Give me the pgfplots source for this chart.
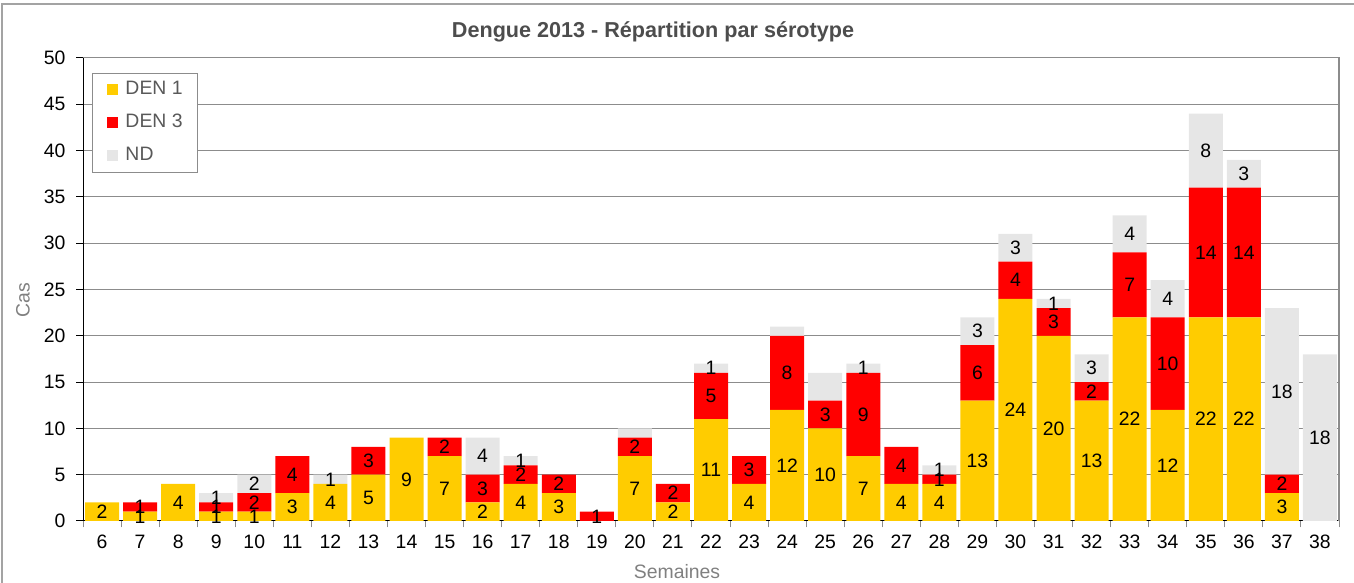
\documentclass[border=0pt]{standalone}
\usepackage{pgfplots}
\usepackage{pgfplotstable}
\pgfplotsset{compat=1.18}
\usepackage{fontspec}
\setmainfont{Liberation Sans}
\definecolor{den1}{HTML}{FFCC00}
\definecolor{den3}{HTML}{FF0000}
\definecolor{ndc}{HTML}{E6E6E6}
\definecolor{gridc}{HTML}{8C8C8C}
\definecolor{titlec}{HTML}{4D4D4D}
\definecolor{labc}{HTML}{808080}
\definecolor{legc}{HTML}{595959}

\pgfplotstableread{
w d1 d3 nd l1 l3 ln
6 2 0 0 2 0 0
7 1 1 0 1 1 0
8 4 0 0 4 0 0
9 1 1 1 1 1 1
10 1 2 2 1 2 2
11 3 4 0 3 4 0
12 4 0 1 4 0 1
13 5 3 0 5 3 0
14 9 0 0 9 0 0
15 7 2 0 7 2 0
16 2 3 4 2 3 4
17 4 2 1 4 2 1
18 3 2 0 3 2 0
19 0 1 0 0 1 0
20 7 2 1 7 2 0
21 2 2 0 2 2 0
22 11 5 1 11 5 1
23 4 3 0 4 3 0
24 12 8 1 12 8 0
25 10 3 3 10 3 0
26 7 9 1 7 9 1
27 4 4 0 4 4 0
28 4 1 1 4 1 1
29 13 6 3 13 6 3
30 24 4 3 24 4 3
31 20 3 1 20 3 1
32 13 2 3 13 2 3
33 22 7 4 22 7 4
34 12 10 4 12 10 4
35 22 14 8 22 14 8
36 22 14 3 22 14 3
37 3 2 18 3 2 18
38 0 0 18 0 0 18
}\data

\pgfplotsset{
  base/.style={
    scale only axis, width=628pt, height=231.5pt,
    xmin=5.5, xmax=38.5, ymin=0, ymax=50, enlargelimits=false,
  },
  lab/.style={draw=none, mark=none, point meta=explicit symbolic,
    nodes near coords={\ifnum\pgfplotspointmeta>0 \pgfplotspointmeta\fi},
    every node near coord/.style={anchor=center, inner sep=0pt,
      font=\fontsize{9.7}{11}\selectfont, text=black}},
}

\begin{document}
\begin{tikzpicture}
\begin{axis}[base, name=main,
  ybar stacked, bar width=17pt,
  /pgf/number format/assume math mode=true,
  axis line style={gridc, line width=0.5pt},
  ymajorgrids, grid style={gridc, line width=0.5pt},
  ytick={0,5,...,50},
  xtick={5.5,6.5,...,38.5}, xticklabels={},
  tick pos=left, tick align=outside, major tick length=3.25pt,
  xtick style={gridc, line width=0.5pt},
  ytick style={black, line width=0.5pt},
  extra x ticks={6,...,38},
  extra x tick style={major tick length=0pt, xticklabel style={yshift=-3.5pt}},
  ticklabel style={font=\fontsize{9.7}{11}\selectfont, text=black},
  yticklabel style={xshift=-2pt},
  legend style={at={(axis description cs:0,1)}, xshift=4.5pt, yshift=-7.5pt,
    anchor=north west, draw=gridc, line width=0.5pt,
    font=\fontsize{9.7}{11}\selectfont, text=legc,
    inner xsep=7.5pt, inner ysep=3.75pt, row sep=7.5pt,
    nodes={inner sep=0pt, text height=7pt, text depth=2pt},
    /tikz/every odd column/.append style={column sep=3.5pt}},
  legend cell align=left,
  legend image code/.code={\fill[#1] (0pt,-2.75pt) rectangle (5.5pt,2.75pt);},
]
\addplot[fill=den1, draw=none] table[x=w, y=d1]{\data};
\addplot[fill=den3, draw=none] table[x=w, y=d3]{\data};
\addplot[fill=ndc, draw=none] table[x=w, y=nd]{\data};
\legend{DEN 1, DEN 3, ND}
\draw[gridc, line width=1pt] (rel axis cs:1,0) -- (rel axis cs:1,1);
\draw[black, line width=0.6pt] (rel axis cs:0,1) -- (rel axis cs:0,0) -- (rel axis cs:1,0);
\end{axis}
\begin{axis}[base, hide axis]
\addplot[lab] table[x=w, y expr=\thisrow{d1}/2, meta=l1]{\data};
\addplot[lab] table[x=w, y expr=\thisrow{d1}+\thisrow{d3}/2, meta=l3]{\data};
\addplot[lab] table[x=w, y expr=\thisrow{d1}+\thisrow{d3}+\thisrow{nd}/2, meta=ln]{\data};
\end{axis}
\node[font=\bfseries\fontsize{10.8}{13}\selectfont, text=titlec] at ([shift={(285pt,244.5pt)}]main.south west) {Dengue 2013 - Répartition par sérotype};
\node[font=\fontsize{9.7}{11}\selectfont, text=labc] at ([shift={(297pt,-25.5pt)}]main.south west) {Semaines};
\node[font=\fontsize{9.7}{11}\selectfont, text=labc, rotate=90] at ([shift={(-30pt,110.5pt)}]main.south west) {Cas};
\draw[gridc!80, line width=0.6pt] ([shift={(-40.5pt,258.5pt)}]main.south west) rectangle ([shift={(645pt,-45pt)}]main.south west);
\pgfresetboundingbox
\path ([shift={(-41.5pt,-31pt)}]main.south west) rectangle ([shift={(635.5pt,260.5pt)}]main.south west);
\end{tikzpicture}
\end{document}
